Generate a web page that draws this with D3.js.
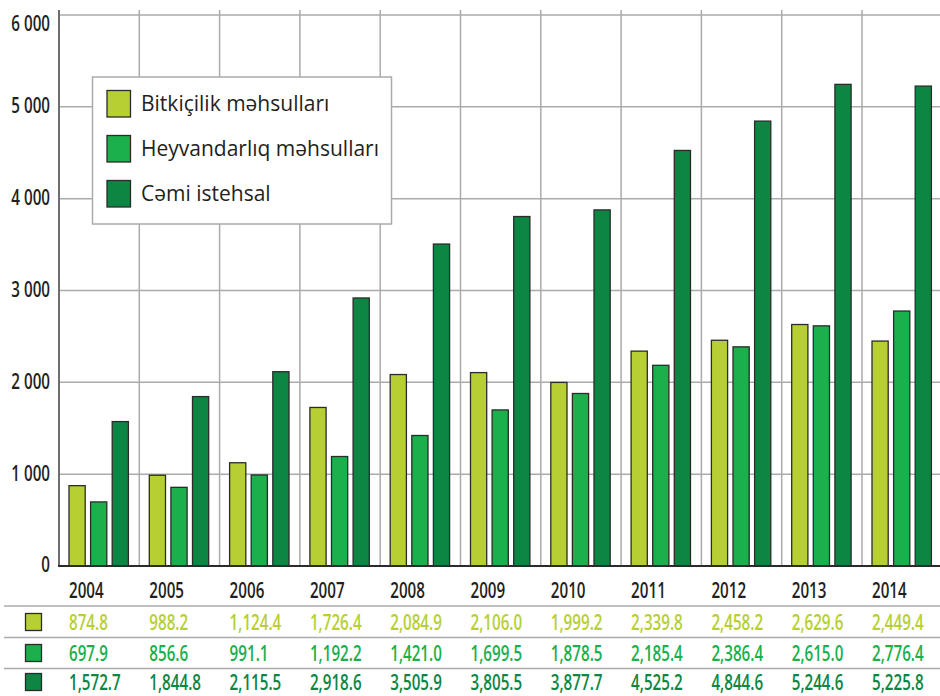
<!DOCTYPE html>
<html><head><meta charset="utf-8">
<script src="https://cdn.jsdelivr.net/npm/d3@7"></script>
<style>
html,body{margin:0;padding:0;background:#fff;}
svg{display:block;}
.cond{font-family:"Open Sans","Noto Sans",sans-serif;font-weight:600;}
.leg{font-family:"Open Sans","Noto Sans",sans-serif;}
</style>
</head><body>
<svg id="chart" width="940" height="696"></svg>
<script>
const years = ["2004","2005","2006","2007","2008","2009","2010","2011","2012","2013","2014"];
const seriesNames = ["Bitkiçilik məhsulları","Heyvandarlıq məhsulları","Cəmi istehsal"];
const bitkicilik = [874.8,988.2,1124.4,1726.4,2084.9,2106.0,1999.2,2339.8,2458.2,2629.6,2449.4];
const heyvandarliq = [697.9,856.6,991.1,1192.2,1421.0,1699.5,1878.5,2185.4,2386.4,2615.0,2776.4];
const cemi = [1572.7,1844.8,2115.5,2918.6,3505.9,3805.5,3877.7,4525.2,4844.6,5244.6,5225.8];
const yTicks = [0,1000,2000,3000,4000,5000,6000];
const colors = ["#b7cf33","#1bb04b","#0c8642"];
const textColors = ["#b7cf33","#1bb04b","#0c8642"];

const seriesData = [bitkicilik, heyvandarliq, cemi];
const svg = d3.select("#chart");
const SX = 0.69, FS = 22;

const x = d3.scaleBand().domain(years).range([59, 942.3]).padding(0);
const xs = d3.scaleBand().domain([0,1,2]).range([10, 69.4]).paddingInner(0.25).paddingOuter(0);
const y = d3.scaleLinear().domain([0,6000]).range([566,15]);

function condText(sel, fx, fy) {
  return sel.attr("class","cond")
    .attr("transform",(d,i)=>`translate(${fx(d,i)},${fy(d,i)}) scale(${SX},1)`)
    .attr("dy","0.36em")
    .attr("font-size",FS);
}

// vertical gridlines
svg.append("g").selectAll("line").data(years).join("line")
  .attr("x1", d=> x(d) + x.bandwidth())
  .attr("x2", d=> x(d) + x.bandwidth())
  .attr("y1", 10).attr("y2", 566)
  .attr("stroke","#ababab").attr("stroke-width",1.5);

// horizontal gridlines
svg.append("g").selectAll("line").data(yTicks.filter(d=>d>0)).join("line")
  .attr("x1", 59).attr("x2", 940)
  .attr("y1", d=>y(d)).attr("y2", d=>y(d))
  .attr("stroke","#ababab").attr("stroke-width",1.5);

// y tick labels
condText(svg.append("g").selectAll("text").data(yTicks).join("text"),
    ()=>50, d=>Math.max(y(d)-1.5, 23))
  .attr("text-anchor","end")
  .attr("fill","#231f20")
  .text(d=> d3.format(",")(d).replace(",", " "));

// bars
const gBars = svg.append("g");
years.forEach((yr, i) => {
  seriesData.forEach((s, k) => {
    gBars.append("rect")
      .attr("x", x(yr) + xs(k))
      .attr("width", xs.bandwidth())
      .attr("y", y(s[i]))
      .attr("height", y(0) - y(s[i]))
      .attr("fill", colors[k])
      .attr("stroke","#2b2b2b").attr("stroke-width",1.3);
  });
});

// axes lines
svg.append("line").attr("x1",59).attr("x2",59).attr("y1",10).attr("y2",567)
  .attr("stroke","#6d6d6d").attr("stroke-width",2);
svg.append("line").attr("x1",58).attr("x2",940).attr("y1",566).attr("y2",566)
  .attr("stroke","#2b2b2b").attr("stroke-width",2);

// legend
const leg = svg.append("g");
leg.append("rect").attr("x",92.5).attr("y",77).attr("width",299).attr("height",147)
  .attr("fill","#fff").attr("stroke","#ababab").attr("stroke-width",1.5);
seriesNames.forEach((n,k)=>{
  const cy = 103.5 + k*45;
  leg.append("rect").attr("x",107).attr("y",cy-13).attr("width",23.5).attr("height",26.5)
    .attr("fill",colors[k]).attr("stroke","#2b2b2b").attr("stroke-width",1.3);
  leg.append("text").attr("class","leg").attr("x",141).attr("y",cy).attr("dy","0.35em")
    .attr("font-size",21).attr("fill","#231f20").text(n);
});

// year labels
condText(svg.append("g").selectAll("text").data(years).join("text"),
    d=> x(d) + xs(0), ()=>590)
  .attr("fill","#231f20")
  .text(d=>d);

// table lines
[606, 637.5, 668.5].forEach(yy=>{
  svg.append("line").attr("x1",4).attr("x2",940).attr("y1",yy).attr("y2",yy)
    .attr("stroke","#ababab").attr("stroke-width",1.5);
});

// table rows
const rowY = [622, 653, 682];
const fmt = d3.format(",.1f");
seriesData.forEach((s,k)=>{
  svg.append("rect").attr("x",25.5).attr("y",rowY[k]-8.5).attr("width",16).attr("height",17)
    .attr("fill",colors[k]).attr("stroke","#2b2b2b").attr("stroke-width",1.3);
  condText(svg.append("g").selectAll("text").data(s).join("text"),
      (d,i)=> x(years[i]) + xs(0), ()=>rowY[k])
    .attr("fill",textColors[k])
    .text(d=>fmt(d));
});
</script>
</body></html>
